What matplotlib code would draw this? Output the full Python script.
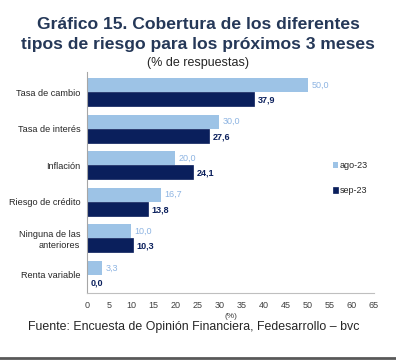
import matplotlib
matplotlib.use("Agg")
import matplotlib.pyplot as plt
import numpy as np

plt.rcParams['font.family'] = ['Liberation Sans', 'DejaVu Sans']

categories = ["Tasa de cambio", "Tasa de interés", "Inflación", "Riesgo de crédito",
              "Ninguna de las\nanteriores", "Renta variable"]
ago23 = [50.0, 30.0, 20.0, 16.7, 10.0, 3.3]
sep23 = [37.9, 27.6, 24.1, 13.8, 10.3, 0.0]
series_names = ["ago-23", "sep-23"]
xticks = list(range(0, 70, 5))

c_light = "#9DC3E6"
c_dark = "#0A1F5C"

fig = plt.figure(figsize=(3.96, 3.6), dpi=100)
ax = fig.add_axes([0.22, 0.186, 0.724, 0.614])

y = np.arange(len(categories))
h = 0.38
b1 = ax.barh(y - h/2, ago23, height=h, color=c_light, label=series_names[0])
b2 = ax.barh(y + h/2, sep23, height=h, color=c_dark, edgecolor=c_dark, linewidth=0.5, label=series_names[1])

for yi, v in zip(y, ago23):
    ax.text(v + 0.8, yi - h/2, f"{v:.1f}".replace(".", ","), va="center", ha="left",
            fontsize=6.5, color="#8DB4E2")
for yi, v in zip(y, sep23):
    ax.text(v + 0.8, yi + h/2 + 0.03, f"{v:.1f}".replace(".", ","), va="center", ha="left",
            fontsize=6.5, color=c_dark, fontweight="bold")

ax.set_ylim(5.5, -0.55)
ax.set_xlim(0, 65)
ax.set_xticks(xticks)
ax.set_xticklabels([str(t) for t in xticks], fontsize=6.5, color="#404040")
ax.set_yticks(y)
ax.set_yticklabels(categories, fontsize=6.6, color="#262626")
ax.tick_params(axis="y", length=0, pad=5)
ax.tick_params(axis="x", length=0, pad=6)
for s in ["top", "right"]:
    ax.spines[s].set_visible(False)
ax.spines["left"].set_color("#A6A6A6")
ax.spines["bottom"].set_color("#BFBFBF")
ax.spines["left"].set_linewidth(0.8)
ax.spines["bottom"].set_linewidth(0.8)
ax.set_xlabel("(%)", fontsize=6, color="#404040", labelpad=2)

leg = fig.legend(handles=[b1, b2], labels=series_names, loc="upper left",
                 bbox_to_anchor=(0.82, 0.575), frameon=False, fontsize=6.5,
                 handlelength=0.6, handleheight=0.6, handletextpad=0.2,
                 labelspacing=1.75, labelcolor="#262626")

title_kw = dict(ha="center", va="baseline", fontsize=12.6, fontweight="bold", color="#253858")
fig.text(0.5, 0.919, "Gráfico 15. Cobertura de los diferentes", **title_kw)
fig.text(0.5, 0.864, "tipos de riesgo para los próximos 3 meses", **title_kw)
fig.text(0.5, 0.817, "(% de respuestas)", ha="center", va="baseline", fontsize=9, color="#262626")
fig.text(0.49, 0.092, "Fuente: Encuesta de Opinión Financiera, Fedesarrollo – bvc",
         ha="center", va="center", fontsize=8.9, color="#262626")
fig.add_artist(plt.Line2D([0, 1], [0.006, 0.006], color="#595959", linewidth=2, transform=fig.transFigure))

fig.savefig("out.png", dpi=100)
